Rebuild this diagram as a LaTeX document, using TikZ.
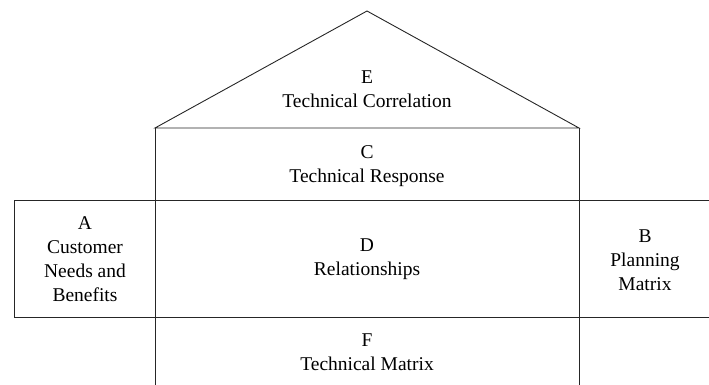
\documentclass[tikz,border=0pt]{standalone}
\usepackage{fontspec}
\setmainfont{Liberation Serif}
\begin{document}
\begin{tikzpicture}[x=1pt,y=-1pt,
  edge/.style={draw=black!85, line width=0.9pt},
  lbl/.style={align=center, inner sep=0pt, font=\fontsize{19.5}{24}\selectfont}]
\useasboundingbox (0,0) rectangle (709,385);
% roof
\draw[edge] (155,128) -- (367,11) -- (579,128) -- cycle;
% columns
\draw[edge] (155,128) -- (155,385);
\draw[edge] (579,128) -- (579,385);
% horizontal lines
\draw[edge] (14,200) -- (709,200);
\draw[edge] (14,317) -- (709,317);
\draw[edge] (14,200) -- (14,317);
% labels
\node[lbl] (E) at (367,89.5) {E\\Technical Correlation};
\node[lbl] (C) at (367,166) {C\\Technical Response};
\node[lbl] (A) at (85,259) {A\\Customer\\Needs and\\Benefits};
\node[lbl] (D) at (367,259) {D\\Relationships};
\node[lbl] (B) at (645,260) {B\\Planning\\Matrix};
\node[lbl] (F) at (367,352.5) {F\\Technical Matrix};
\end{tikzpicture}
\end{document}
